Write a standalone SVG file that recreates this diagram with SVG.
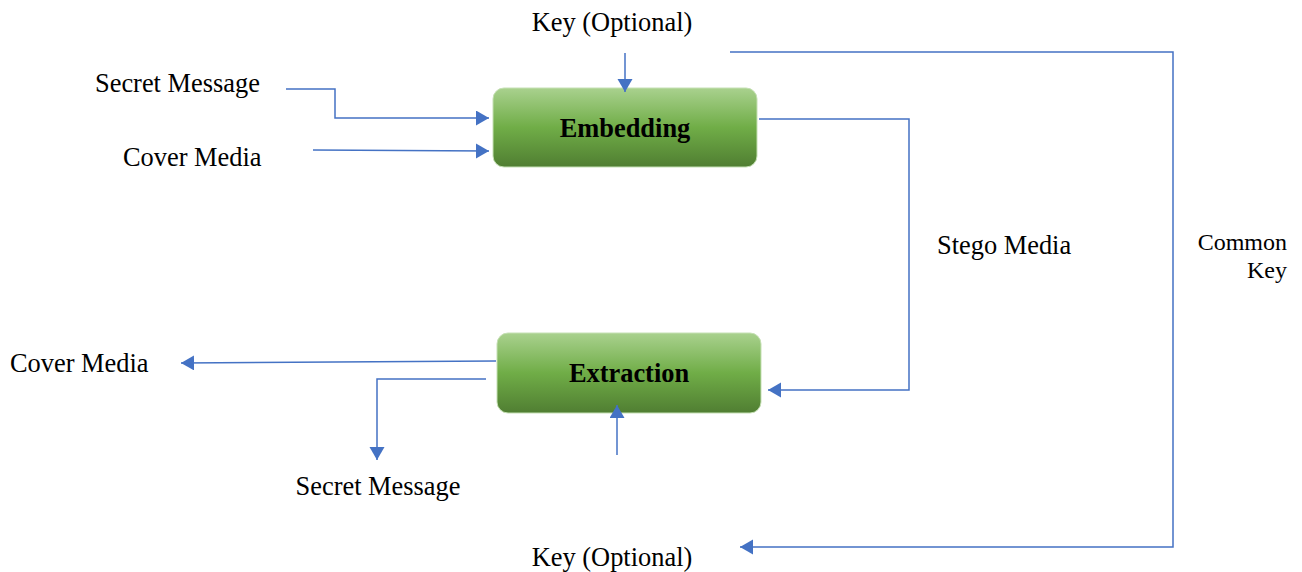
<svg xmlns="http://www.w3.org/2000/svg" width="1302" height="572" viewBox="0 0 1302 572">
<style>
.t{font-family:"Liberation Serif","Times New Roman",serif;font-size:26.4px;fill:#000}
.s{font-family:"Liberation Serif","Times New Roman",serif;font-size:24px;fill:#000}
.b{font-family:"Liberation Serif","Times New Roman",serif;font-size:26.4px;font-weight:bold;fill:#000}
.c{fill:none;stroke:#4472c4;stroke-width:1.5}
.box{fill:url(#g);stroke:#c5e0b4;stroke-width:1}
</style>
<defs>
<linearGradient id="g" x1="0" y1="0" x2="0" y2="1">
<stop offset="0" stop-color="#a9d18e"/>
<stop offset="0.5" stop-color="#70ad47"/>
<stop offset="1" stop-color="#507e32"/>
</linearGradient>
<marker id="a" markerUnits="userSpaceOnUse" markerWidth="14" markerHeight="16" refX="13" refY="7.5" orient="auto">
<path d="M0,0 L13,7.5 L0,15 z" fill="#4472c4"/>
</marker>
</defs>
<rect width="1302" height="572" fill="#fff"/>
<g id="embedding">
<rect class="box" x="493" y="88" width="264" height="79" rx="11"/>
<text class="b" x="625" y="137" text-anchor="middle">Embedding</text>
</g>
<g id="extraction">
<rect class="box" x="497" y="333" width="264" height="80" rx="11"/>
<text class="b" x="629" y="382" text-anchor="middle">Extraction</text>
</g>
<g id="labels">
<text class="t" x="612" y="31" text-anchor="middle">Key (Optional)</text>
<text class="t" x="95" y="92">Secret Message</text>
<text class="t" x="123" y="166">Cover Media</text>
<text class="t" x="937" y="254">Stego Media</text>
<text class="s" x="1287" y="250" text-anchor="end">Common</text>
<text class="s" x="1287" y="278" text-anchor="end">Key</text>
<text class="t" x="10" y="372">Cover Media</text>
<text class="t" x="378" y="495" text-anchor="middle">Secret Message</text>
<text class="t" x="612" y="566" text-anchor="middle">Key (Optional)</text>
</g>
<g id="connectors">
<path class="c" d="M625,53 V92" marker-end="url(#a)"/>
<path class="c" d="M286,89 H335 V118 H489" marker-end="url(#a)"/>
<path class="c" d="M313,150 L489,151" marker-end="url(#a)"/>
<path class="c" d="M759,119 H909 V390 H768" marker-end="url(#a)"/>
<path class="c" d="M730,52 H1173 V547 H740" marker-end="url(#a)"/>
<path class="c" d="M496,361 L181,363" marker-end="url(#a)"/>
<path class="c" d="M486,379 H377 V460" marker-end="url(#a)"/>
<path class="c" d="M617,455 V405" marker-end="url(#a)"/>
</g>
</svg>
